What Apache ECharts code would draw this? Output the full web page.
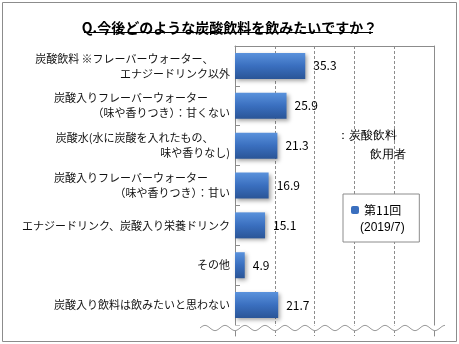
<!DOCTYPE html>
<html>
<head>
<meta charset="utf-8">
<script src="https://cdn.jsdelivr.net/npm/echarts@6/dist/echarts.min.js"></script>
<style>
html,body{margin:0;padding:0;background:#fff;}
#c{width:459px;height:344px;}
</style>
</head>
<body>
<div id="c"></div>
<script>
const titleText = 'Q.今後どのような炭酸飲料を飲みたいですか？';
const categories = [
  '炭酸飲料 ※フレーバーウォーター、　　\nエナジードリンク以外',
  '炭酸入りフレーバーウォーター　　\n（味や香りつき）：甘くない',
  '炭酸水(水に炭酸を入れたもの、　　\n味や香りなし)',
  '炭酸入りフレーバーウォーター　　\n（味や香りつき）：甘い',
  'エナジードリンク、炭酸入り栄養ドリンク',
  'その他',
  '炭酸入り飲料は飲みたいと思わない'
];
const values = [35.3, 25.9, 21.3, 16.9, 15.1, 4.9, 21.7];
const seriesName = '第11回';
const legendSub = '(2019/7)';
const noteLines = ['：炭酸飲料', '飲用者'];

const FONT = '"Noto Sans CJK JP", "Noto Sans", sans-serif';
const chart = echarts.init(document.getElementById('c'), null, {renderer: 'canvas'});

// decorative wave (axis break mark)
const wave = [];
for (let x = 200; x <= 445; x += 1) {
  wave.push([x, 328 + 2.6 * Math.sin((x - 200) / 20 * 2 * Math.PI + Math.PI)]);
}

const gridLine = {show: true, lineStyle: {color: '#8c8c8c', type: [3, 2], width: 1}};

chart.setOption({
  animation: false,
  backgroundColor: '#fff',
  textStyle: {fontFamily: FONT},
  title: {
    text: titleText,
    left: 'center',
    top: 16,
    textStyle: {fontSize: 14, fontWeight: 'bold', color: '#000', fontFamily: FONT}
  },
  legend: {
    data: [seriesName],
    left: 343,
    top: 194,
    orient: 'vertical',
    padding: [10, 18, 26, 8],
    itemWidth: 8,
    itemHeight: 8,
    backgroundColor: '#fff',
    borderColor: '#8c8c8c',
    borderWidth: 1,
    borderRadius: 0,
    textStyle: {fontSize: 12, color: '#000', fontFamily: FONT},
    itemStyle: {color: '#3a6fbf'}
  },
  grid: [
    {left: 235, top: 46, width: 199, height: 279, containLabel: false},
    {left: 235, top: 325, width: 199, height: 11, containLabel: false}
  ],
  xAxis: [
    {
      type: 'value', gridIndex: 0, min: 0, max: 100, interval: 20, position: 'top',
      axisLine: {show: true, lineStyle: {color: '#8c8c8c'}},
      axisTick: {show: false}, axisLabel: {show: false},
      splitLine: gridLine
    },
    {
      type: 'value', gridIndex: 1, min: 0, max: 100, interval: 20,
      axisLine: {show: false}, axisTick: {show: false}, axisLabel: {show: false},
      splitLine: gridLine
    }
  ],
  yAxis: [
    {
      type: 'category', gridIndex: 0, data: categories, inverse: true,
      axisLine: {show: true, lineStyle: {color: '#8c8c8c'}},
      axisTick: {show: true, inside: true, length: 5, lineStyle: {color: '#8c8c8c'}},
      axisLabel: {
        margin: 5, fontSize: 11, color: '#111', lineHeight: 15, align: 'right',
        fontFamily: FONT
      },
      splitLine: {show: false}
    },
    {
      type: 'category', gridIndex: 0, data: categories, inverse: true, position: 'right',
      axisLine: {show: true, lineStyle: {color: '#8c8c8c'}},
      axisTick: {show: false}, axisLabel: {show: false}, splitLine: {show: false}
    },
    {
      type: 'value', gridIndex: 1, min: 0, max: 1,
      axisLine: {show: true, lineStyle: {color: '#8c8c8c'}},
      axisTick: {show: false}, axisLabel: {show: false}, splitLine: {show: false}
    },
    {
      type: 'value', gridIndex: 1, min: 0, max: 1, position: 'right',
      axisLine: {show: true, lineStyle: {color: '#8c8c8c'}},
      axisTick: {show: false}, axisLabel: {show: false}, splitLine: {show: false}
    }
  ],
  series: [{
    name: seriesName,
    type: 'bar',
    xAxisIndex: 0,
    yAxisIndex: 0,
    data: values,
    barWidth: 26,
    itemStyle: {
      color: new echarts.graphic.LinearGradient(0, 0, 0, 1, [
        {offset: 0, color: '#5a92dc'},
        {offset: 0.5, color: '#3a6fbf'},
        {offset: 1, color: '#2a5597'}
      ]),
      shadowColor: 'rgba(0,0,0,0.35)',
      shadowBlur: 4,
      shadowOffsetX: 2,
      shadowOffsetY: 2
    },
    label: {
      show: true, position: 'right', distance: 8,
      fontSize: 12, color: '#000', fontFamily: FONT,
      formatter: p => p.value.toFixed(1)
    }
  }],
  graphic: [
    {type: 'rect', z: -10, shape: {x: 2.5, y: 2.5, width: 454, height: 339},
     style: {fill: 'none', stroke: '#8c8c8c', lineWidth: 1}},
    {type: 'line', z: 10, shape: {x1: 84, y1: 32.5, x2: 373, y2: 32.5},
     style: {stroke: '#000', lineWidth: 1}},
    {type: 'rect', z: 20, shape: {x: 200, y: 325.5, width: 245, height: 5.5},
     style: {fill: '#fff'}},
    {type: 'polyline', z: 21, shape: {points: wave},
     style: {stroke: '#9a9a9a', lineWidth: 1, fill: 'none'}},
    {type: 'text', z: 30, left: 337, top: 130,
     style: {text: noteLines[0], fontSize: 12, fill: '#000', font: '12px ' + FONT}},
    {type: 'text', z: 30, left: 370, top: 149,
     style: {text: noteLines[1], fontSize: 12, fill: '#000', font: '12px ' + FONT}},
    {type: 'text', z: 30, left: 360, top: 222,
     style: {text: legendSub, fontSize: 12, fill: '#000', font: '12px ' + FONT}}
  ]
});
</script>
</body>
</html>
